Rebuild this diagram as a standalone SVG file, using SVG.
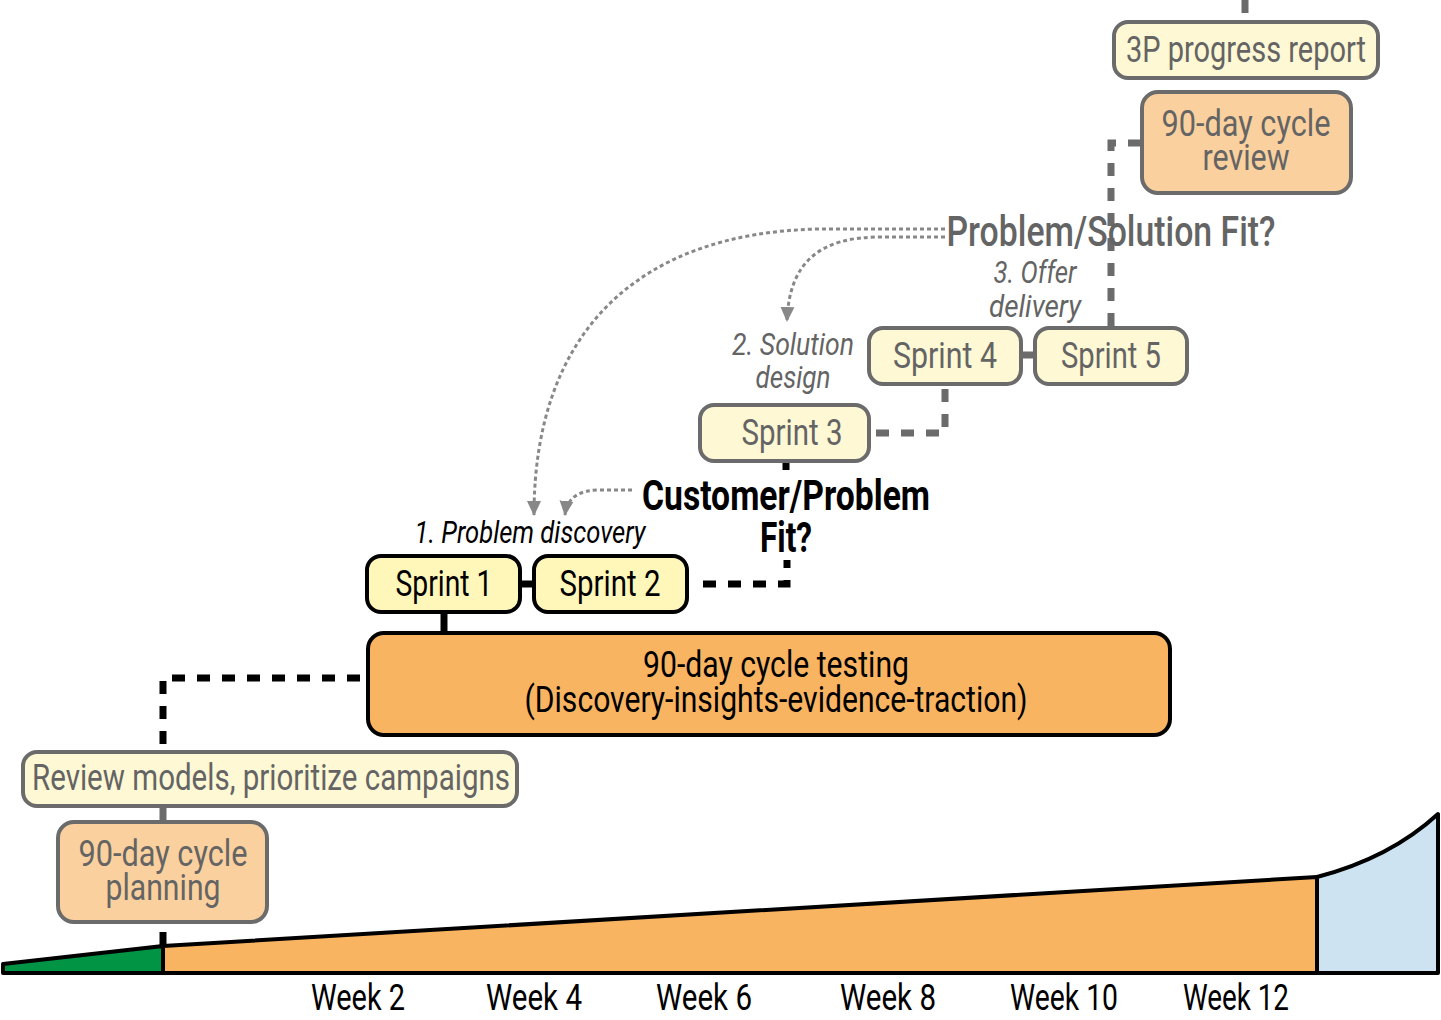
<svg xmlns="http://www.w3.org/2000/svg" width="1441" height="1020" viewBox="0 0 1441 1020">
<style>
text{font-family:"Roboto","Noto Sans","Liberation Sans",sans-serif;text-anchor:middle}
.lbl{font-size:36px}
.g{fill:#646464}
.k{fill:#000}
.it{font-style:italic;font-size:32px}
.box-g{stroke:#6b6b6b;stroke-width:4}
.box-k{stroke:#000;stroke-width:4}
.pale{fill:#FEF8D5}
.yel{fill:#FFF6BA}
.lor{fill:#FAD19E}
.org{fill:#F9B462}
.dk{fill:none;stroke:#000;stroke-width:7;stroke-dasharray:13 12}
.dg{fill:none;stroke:#6b6b6b;stroke-width:7;stroke-dasharray:13 12}
.sk{fill:none;stroke:#000;stroke-width:7}
.sg{fill:none;stroke:#6b6b6b;stroke-width:7}
.dot{fill:none;stroke:#888;stroke-width:3;stroke-dasharray:4 3}
</style>
<defs>
<marker id="ah" markerUnits="userSpaceOnUse" markerWidth="16" markerHeight="16" viewBox="0 0 16 16" refX="8" refY="14" orient="auto-start-reverse">
<path d="M1,0 L15,0 L8,15 Z" fill="#888" transform="rotate(-90 8 8)"/>
</marker>
<marker id="ah2" markerUnits="userSpaceOnUse" markerWidth="16" markerHeight="16" viewBox="0 0 16 16" refX="14" refY="8" orient="auto">
<path d="M0,1 L15,8 L0,15 Z" fill="#888"/>
</marker>
</defs>

<g id="connectors">
<path class="dg" d="M1245,0 L1245,22"/>
<path class="dg" d="M1111,326 L1111,143 L1142,143"/>
<path class="sg" d="M1021,355 L1035,355"/>
<path class="dg" d="M876,433 L945,433 L945,386"/>
<path class="sk" d="M786,461 L786,470"/>
<path class="dk" d="M703,584 L787,584 L787,560"/>
<path class="sk" d="M520,584 L534,584"/>
<path class="sk" d="M444,612 L444,633"/>
<path class="dk" d="M360,678 L163,678 L163,752"/>
<path class="sg" d="M163,806 L163,822"/>
<path class="sk" d="M163,932 L163,945"/>
<path class="dot" marker-end="url(#ah2)" d="M945,229 L820,229 C640,232 534,330 534,515"/>
<path class="dot" marker-end="url(#ah2)" d="M945,237 L880,237 C820,237 789,262 787,321"/>
<path class="dot" marker-end="url(#ah2)" d="M632,490 L600,490 C580,490 567,497 565,515"/>
</g>

<g id="progress-report">
<rect class="box-g pale" x="1114" y="22" width="264" height="56" rx="14"/>
<text class="lbl g" x="1246" y="62" textLength="240" lengthAdjust="spacingAndGlyphs">3P progress report</text>
</g>
<g id="cycle-review">
<rect class="box-g lor" x="1142" y="92" width="209" height="101" rx="16"/>
<text class="lbl g" x="1246" y="136" textLength="169" lengthAdjust="spacingAndGlyphs">90-day cycle</text>
<text class="lbl g" x="1246" y="170" textLength="87" lengthAdjust="spacingAndGlyphs">review</text>
</g>
<g id="ps-fit">
<text class="g" style="font-size:42px;font-weight:500" x="1111" y="246" textLength="329" lengthAdjust="spacingAndGlyphs">Problem/Solution Fit?</text>
</g>
<g id="offer-label">
<text class="it g" x="1035" y="283" textLength="83" lengthAdjust="spacingAndGlyphs">3. Offer</text>
<text class="it g" x="1035" y="317" textLength="92" lengthAdjust="spacingAndGlyphs">delivery</text>
</g>
<g id="sprint4">
<rect class="box-g pale" x="869" y="328" width="152" height="56" rx="14"/>
<text class="lbl g" x="945" y="368" textLength="104" lengthAdjust="spacingAndGlyphs">Sprint 4</text>
</g>
<g id="sprint5">
<rect class="box-g pale" x="1035" y="328" width="152" height="56" rx="14"/>
<text class="lbl g" x="1111" y="368" textLength="100" lengthAdjust="spacingAndGlyphs">Sprint 5</text>
</g>
<g id="solution-label">
<text class="it g" x="793" y="355" textLength="122" lengthAdjust="spacingAndGlyphs">2. Solution</text>
<text class="it g" x="793" y="388" textLength="75" lengthAdjust="spacingAndGlyphs">design</text>
</g>
<g id="sprint3">
<rect class="box-g pale" x="700" y="405" width="169" height="56" rx="14"/>
<text class="lbl g" x="792" y="445" textLength="101" lengthAdjust="spacingAndGlyphs">Sprint 3</text>
</g>
<g id="cp-fit">
<text class="k" style="font-size:42px;font-weight:700" x="786" y="510" textLength="288" lengthAdjust="spacingAndGlyphs">Customer/Problem</text>
<text class="k" style="font-size:42px;font-weight:700" x="786" y="552" textLength="52" lengthAdjust="spacingAndGlyphs">Fit?</text>
</g>
<g id="problem-label">
<text class="it k" x="530" y="543" textLength="231" lengthAdjust="spacingAndGlyphs">1. Problem discovery</text>
</g>
<g id="sprint1">
<rect class="box-k yel" x="367" y="556" width="153" height="56" rx="14"/>
<text class="lbl k" x="444" y="596" textLength="97" lengthAdjust="spacingAndGlyphs">Sprint 1</text>
</g>
<g id="sprint2">
<rect class="box-k yel" x="534" y="556" width="153" height="56" rx="14"/>
<text class="lbl k" x="610" y="596" textLength="101" lengthAdjust="spacingAndGlyphs">Sprint 2</text>
</g>
<g id="cycle-testing">
<rect class="box-k org" x="368" y="633" width="802" height="102" rx="16"/>
<text class="lbl k" x="776" y="677" textLength="266" lengthAdjust="spacingAndGlyphs">90-day cycle testing</text>
<text class="lbl k" x="776" y="712" textLength="503" lengthAdjust="spacingAndGlyphs">(Discovery-insights-evidence-traction)</text>
</g>
<g id="review-models">
<rect class="box-g pale" x="23" y="752" width="494" height="54" rx="14"/>
<text class="lbl g" x="271" y="790" textLength="478" lengthAdjust="spacingAndGlyphs">Review models, prioritize campaigns</text>
</g>
<g id="cycle-planning">
<rect class="box-g lor" x="58" y="822" width="209" height="100" rx="16"/>
<text class="lbl g" x="163" y="866" textLength="169" lengthAdjust="spacingAndGlyphs">90-day cycle</text>
<text class="lbl g" x="163" y="900" textLength="115" lengthAdjust="spacingAndGlyphs">planning</text>
</g>

<g id="timeline">
<path d="M3,964 L163,946 L163,973 L3,973 Z" fill="#009444" stroke="#000" stroke-width="4" stroke-linejoin="round"/>
<path d="M163,946 L1317,877 L1317,973 L163,973 Z" fill="#F9B462" stroke="#000" stroke-width="4" stroke-linejoin="round"/>
<path d="M1317,877 Q1390,858 1438,814 L1438,973 L1317,973 Z" fill="#CDE3F1" stroke="#000" stroke-width="4" stroke-linejoin="round"/>
<text class="lbl k" x="358" y="1010" textLength="94" lengthAdjust="spacingAndGlyphs">Week 2</text>
<text class="lbl k" x="534" y="1010" textLength="96" lengthAdjust="spacingAndGlyphs">Week 4</text>
<text class="lbl k" x="704" y="1010" textLength="96" lengthAdjust="spacingAndGlyphs">Week 6</text>
<text class="lbl k" x="888" y="1010" textLength="96" lengthAdjust="spacingAndGlyphs">Week 8</text>
<text class="lbl k" x="1064" y="1010" textLength="108" lengthAdjust="spacingAndGlyphs">Week 10</text>
<text class="lbl k" x="1236" y="1010" textLength="106" lengthAdjust="spacingAndGlyphs">Week 12</text>
</g>
</svg>
